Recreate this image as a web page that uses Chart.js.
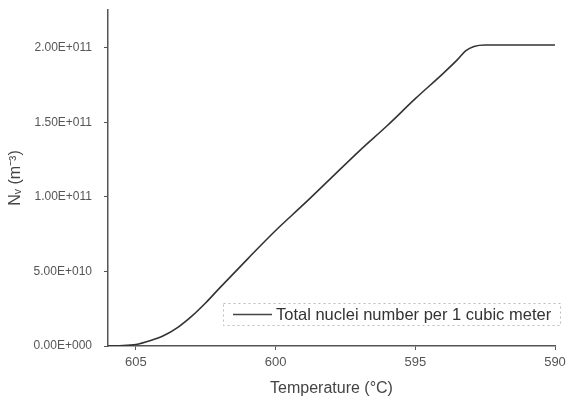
<!DOCTYPE html>
<html lang="en">
<head>
  <meta charset="UTF-8" />
  <title>Total nuclei number</title>
  <script src="https://cdn.jsdelivr.net/npm/chart.js"></script>
  <style>
    html, body { margin: 0; padding: 0; background: #fff; }
    .chart-container { position: relative; width: 569px; height: 401px; }
  </style>
</head>
<body>
  <div class="chart-container">
    <canvas id="nucleiChart"></canvas>
  </div>
  <script>
    // temperature (°C), falling during cooling
    const temperatures = [606.0, 605.6, 605.0, 604.5, 604.0, 603.5, 603.0, 602.5, 602.0, 601.0, 600.0,
                          599.0, 598.0, 597.0, 596.0, 595.0, 594.0, 593.5, 593.2, 592.9, 592.5, 590.0];
    // N_v in m^-3
    const nuclei = [0, 0.002e11, 0.01e11, 0.035e11, 0.07e11, 0.125e11, 0.2e11, 0.29e11, 0.39e11, 0.585e11, 0.775e11,
                    0.95e11, 1.13e11, 1.31e11, 1.48e11, 1.66e11, 1.83e11, 1.92e11, 1.98e11, 2.01e11, 2.02e11, 2.02e11];
    const xTicks = [605, 600, 595, 590];
    const yTicks = [0, 5e10, 1e11, 1.5e11, 2e11];
    const yTickLabels = ['0.00E+000', '5.00E+010', '1.00E+011', '1.50E+011', '2.00E+011'];
    const seriesLabel = 'Total nuclei number per 1 cubic meter';

    const FONT = "'Liberation Sans', Arial, sans-serif";
    const points = temperatures.map((t, i) => ({ x: t, y: nuclei[i] }));

    // legend box drawn inside the plot, like the original
    const insideLegend = {
      id: 'insideLegend',
      afterDraw(chart) {
        const ctx = chart.ctx;
        const x0 = 223, y0 = 303, w = 337, h = 22;
        ctx.save();
        ctx.strokeStyle = '#bbb';
        ctx.lineWidth = 1;
        ctx.setLineDash([2, 3]);
        ctx.strokeRect(x0 + 0.5, y0 + 0.5, w, h);
        ctx.setLineDash([]);
        ctx.strokeStyle = '#444';
        ctx.lineWidth = 1.5;
        ctx.beginPath();
        ctx.moveTo(x0 + 10, y0 + 11.5);
        ctx.lineTo(x0 + 49, y0 + 11.5);
        ctx.stroke();
        ctx.fillStyle = '#333';
        ctx.font = '16.5px ' + FONT;
        ctx.textBaseline = 'middle';
        ctx.fillText(seriesLabel, x0 + 53, y0 + 12);
        ctx.restore();
      }
    };

    const ctx = document.getElementById('nucleiChart').getContext('2d');
    new Chart(ctx, {
      type: 'scatter',
      data: {
        datasets: [{
          label: seriesLabel,
          data: points,
          showLine: true,
          borderColor: '#333',
          borderWidth: 1.6,
          pointRadius: 0,
          cubicInterpolationMode: 'monotone'
        }]
      },
      options: {
        responsive: true,
        maintainAspectRatio: false,
        animation: false,
        layout: { padding: { left: 4, top: 10, right: 14, bottom: 0 } },
        plugins: {
          legend: { display: false },
          tooltip: { enabled: false }
        },
        scales: {
          x: {
            type: 'linear',
            reverse: true,
            min: 590,
            max: 606,
            afterBuildTicks: scale => { scale.ticks = xTicks.map(v => ({ value: v })); },
            afterFit: scale => { scale.height = 55; scale.paddingLeft = 0; scale.paddingRight = 0; },
            grid: { display: true, drawOnChartArea: false, drawTicks: true, tickLength: 4, color: '#555' },
            border: { display: true, color: '#555', width: 1.5 },
            ticks: { color: '#555', font: { family: FONT, size: 13 }, padding: 5, maxRotation: 0 },
            title: {
              display: true,
              text: 'Temperature (°C)',
              color: '#444',
              font: { family: FONT, size: 16 },
              padding: { top: 3, bottom: 3 }
            }
          },
          y: {
            min: 0,
            max: 2.255e11,
            afterBuildTicks: scale => { scale.ticks = yTicks.map(v => ({ value: v })); },
            afterFit: scale => { scale.width = 104; scale.paddingTop = 0; scale.paddingBottom = 0; },
            grid: { display: true, drawOnChartArea: false, drawTicks: true, tickLength: 4, color: '#555' },
            border: { display: true, color: '#555', width: 1.5 },
            ticks: {
              color: '#555',
              font: { family: FONT, size: 12 },
              padding: 12,
              callback: (value) => {
                const i = yTicks.indexOf(value);
                return i >= 0 ? yTickLabels[i] : '';
              }
            },
            title: {
              display: true,
              text: 'Nᵥ (m⁻³)',
              color: '#444',
              font: { family: FONT, size: 16 },
              padding: { top: 2, bottom: 2 }
            }
          }
        }
      },
      plugins: [insideLegend]
    });
  </script>
</body>
</html>
